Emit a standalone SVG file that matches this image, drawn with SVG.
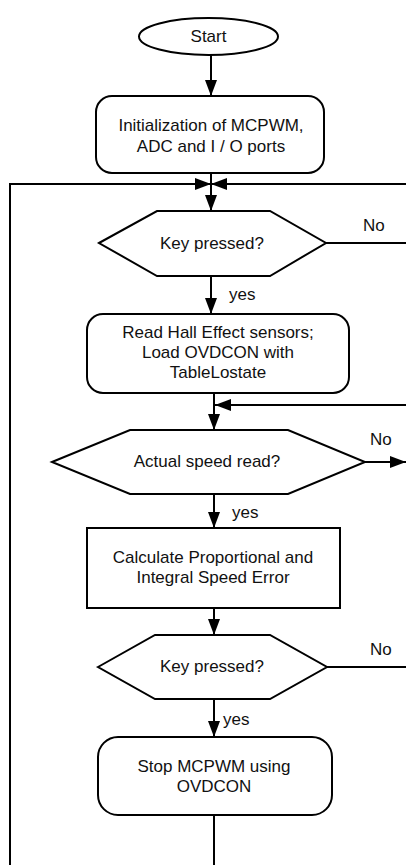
<svg xmlns="http://www.w3.org/2000/svg" width="406" height="865" viewBox="0 0 406 865">
<defs>
<style>
.s{fill:#fff;stroke:#000;stroke-width:2}
.c{fill:none;stroke:#000;stroke-width:2}
text{font-family:"Liberation Sans",Arial,sans-serif;font-size:17px;fill:#111}
.m{text-anchor:middle}
</style>
<marker id="ah" markerUnits="userSpaceOnUse" markerWidth="16" markerHeight="12" refX="16" refY="6" orient="auto">
<path d="M0,0 L16,6 L0,12 Z" fill="#000"/>
</marker>
</defs>
<rect width="406" height="865" fill="#fff"/>
<g id="connectors">
<line class="c" x1="211" y1="55" x2="211" y2="96" marker-end="url(#ah)"/>
<line class="c" x1="211" y1="173" x2="211" y2="211" marker-end="url(#ah)"/>
<polyline class="c" points="10,865 10,184 211,184" marker-end="url(#ah)"/>
<line class="c" x1="406" y1="184" x2="211" y2="184" marker-end="url(#ah)"/>
<line class="c" x1="326" y1="243" x2="406" y2="243"/>
<line class="c" x1="211" y1="276" x2="211" y2="314" marker-end="url(#ah)"/>
<line class="c" x1="214" y1="393" x2="214" y2="430" marker-end="url(#ah)"/>
<line class="c" x1="406" y1="405" x2="215" y2="405" marker-end="url(#ah)"/>
<line class="c" x1="365" y1="462" x2="406" y2="462" marker-end="url(#ah)"/>
<line class="c" x1="214" y1="494" x2="214" y2="528" marker-end="url(#ah)"/>
<line class="c" x1="214" y1="608" x2="214" y2="635" marker-end="url(#ah)"/>
<line class="c" x1="327" y1="667" x2="406" y2="667"/>
<line class="c" x1="214" y1="699" x2="214" y2="737" marker-end="url(#ah)"/>
<line class="c" x1="214" y1="815" x2="214" y2="865"/>
<text x="363" y="231">No</text>
<text x="229" y="300">yes</text>
<text x="370" y="445">No</text>
<text x="232" y="518">yes</text>
<text x="370" y="655">No</text>
<text x="223" y="725">yes</text>
</g>
<g id="start">
<ellipse class="s" cx="208.5" cy="36.5" rx="69.5" ry="18.5"/>
<text class="m" x="208.5" y="42">Start</text>
</g>
<g id="init">
<rect class="s" x="96" y="96" width="228" height="77" rx="16"/>
<text class="m" x="211" y="131">Initialization of MCPWM,</text>
<text class="m" x="211" y="152">ADC and I / O ports</text>
</g>
<g id="key1">
<polygon class="s" points="99,243 157,211 270,211 326,243 270,276 157,276"/>
<text class="m" x="212" y="249">Key pressed?</text>
</g>
<g id="hall">
<rect class="s" x="87" y="314" width="262" height="79" rx="16"/>
<text class="m" x="218" y="338">Read Hall Effect sensors;</text>
<text class="m" x="218" y="358">Load OVDCON with</text>
<text class="m" x="218" y="378">TableLostate</text>
</g>
<g id="speed">
<polygon class="s" points="52,462 130,430 288,430 365,462 288,494 130,494"/>
<text class="m" x="207" y="467">Actual speed read?</text>
</g>
<g id="calc">
<rect class="s" x="87" y="528" width="253" height="80"/>
<text class="m" x="213" y="563">Calculate Proportional and</text>
<text class="m" x="213" y="583">Integral Speed Error</text>
</g>
<g id="key2">
<polygon class="s" points="98,667 155,635 270,635 327,667 270,699 155,699"/>
<text class="m" x="212" y="672">Key pressed?</text>
</g>
<g id="stop">
<rect class="s" x="98" y="737" width="234" height="78" rx="20"/>
<text class="m" x="214" y="772">Stop MCPWM using</text>
<text class="m" x="214" y="792">OVDCON</text>
</g>
</svg>
